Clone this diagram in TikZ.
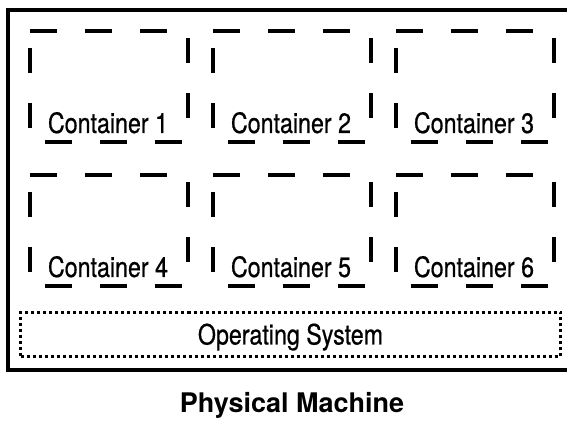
\documentclass[tikz,border=0pt]{standalone}
\usepackage{fontspec}
\newfontfamily\condfont[FakeStretch=0.83, FakeBold=0.6]{TeX Gyre Heros}
\newfontfamily\headfont{TeX Gyre Heros}
\usetikzlibrary{positioning}

\begin{document}
\begin{tikzpicture}[
    x=0.5pt, y=-0.5pt,
    frame/.style={draw, line width=2pt},
    cdash/.style={line width=1.6pt, dash pattern=on 13.5pt off 14pt},
    vdash/.style={line width=1.6pt, dash pattern=on 12.5pt off 15pt},
    osbox/.style={draw, line width=1.6pt, dash pattern=on 1.5pt off 1.5pt,
        minimum width=270pt, minimum height=22pt, text height=10pt, text depth=0pt,
        font=\condfont\fontsize{14}{16}\selectfont},
    ctext/.style={anchor=base, font=\condfont\fontsize{14}{16}\selectfont}
]
\useasboundingbox (0,0) rectangle (567,421);

% Machine frame
\draw[frame] (8,10) rectangle (575,370);

% Containers, three per row
\foreach \n/\col/\row in {1/0/0, 2/1/0, 3/2/0, 4/0/1, 5/1/1, 6/2/1} {
  \begin{scope}[shift={(30+183*\col, 31+144*\row)}]
    \draw[cdash] (0,0) -- (137,0);
    \draw[vdash] (0,17) -- (0,97);
    \draw[vdash] (158,7) -- (158,87);
    \draw[cdash] (15,111) -- (153,111);
    \node[ctext] (c\n) at (78,102) {Container \n};
  \end{scope}
}

% Operating system
\node[osbox] (os) at (290.5,334.5) {Operating System};

% Caption
\node[anchor=base, font=\headfont\bfseries\fontsize{13.5}{16}\selectfont] (pm) at (292,413) {Physical Machine};

\end{tikzpicture}
\end{document}
